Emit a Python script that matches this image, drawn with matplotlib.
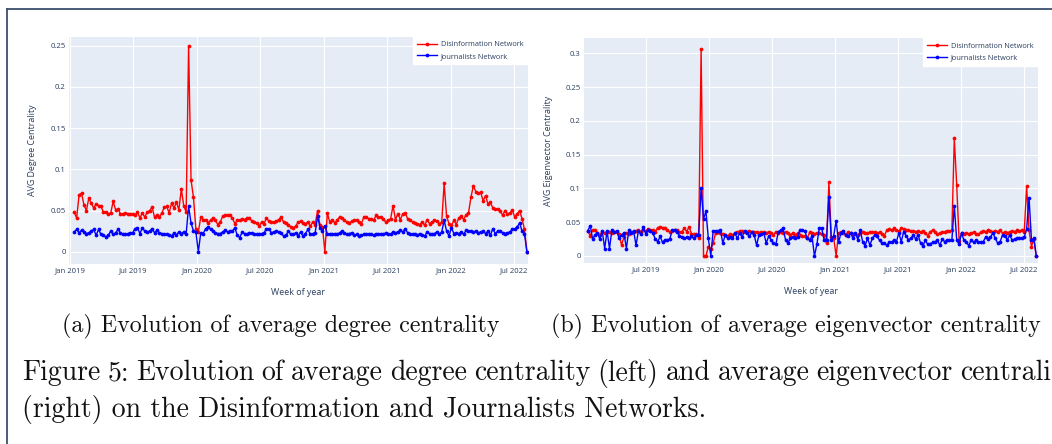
import matplotlib
matplotlib.use("Agg")
import matplotlib.pyplot as plt
import matplotlib.dates as mdates
from matplotlib.lines import Line2D
import pandas as pd

# ---------------------------------------------------------------- data
weeks = pd.date_range("2019-01-13", periods=187, freq="7D")

series_names = ["Disinformation Network", "Journalists Network"]

degree_disinfo = [
    0.048, 0.041, 0.069, 0.071, 0.057, 0.050, 0.065, 0.059, 0.053, 0.058,
    0.056, 0.055, 0.048, 0.048, 0.046, 0.047, 0.061, 0.051, 0.052, 0.046,
    0.046, 0.047, 0.046, 0.046, 0.046, 0.044, 0.048, 0.041, 0.047, 0.042,
    0.048, 0.050, 0.054, 0.042, 0.044, 0.042, 0.047, 0.054, 0.055, 0.047,
    0.059, 0.053, 0.060, 0.051, 0.076,
    0.056, 0.048, 0.250, 0.087, 0.066, 0.027, 0.024,
    0.042, 0.039, 0.039, 0.035, 0.038, 0.041, 0.038, 0.033, 0.036, 0.043,
    0.044, 0.045, 0.044, 0.041, 0.034, 0.038, 0.038, 0.040, 0.039, 0.041,
    0.041, 0.037, 0.036, 0.035, 0.031, 0.036, 0.034, 0.041, 0.037, 0.036,
    0.036, 0.037, 0.039, 0.042, 0.036, 0.035, 0.033, 0.030, 0.029, 0.031,
    0.036, 0.037, 0.035, 0.034, 0.036, 0.031, 0.036, 0.033, 0.050, 0.032,
    0.030, 0.000,
    0.047, 0.036, 0.039, 0.035, 0.038, 0.042, 0.041, 0.038, 0.036, 0.035,
    0.037, 0.038, 0.038, 0.036, 0.034, 0.042, 0.042, 0.040, 0.040, 0.038,
    0.044, 0.042, 0.042, 0.040, 0.036, 0.038, 0.040, 0.056, 0.039, 0.046,
    0.039, 0.046, 0.047, 0.040, 0.039, 0.036, 0.035, 0.034, 0.033, 0.036,
    0.032, 0.039, 0.034, 0.036, 0.038, 0.037, 0.034, 0.036,
    0.083, 0.043, 0.034, 0.032, 0.038, 0.033, 0.041, 0.043, 0.039, 0.045,
    0.047, 0.066, 0.080, 0.073, 0.071, 0.072, 0.062, 0.068, 0.058, 0.060,
    0.053, 0.052, 0.052, 0.050, 0.044, 0.050, 0.046, 0.047, 0.051, 0.042,
    0.046, 0.050, 0.040, 0.027, 0.000,
]

degree_journalists = [
    0.024, 0.027, 0.023, 0.026, 0.024, 0.022, 0.023, 0.025, 0.027, 0.020,
    0.027, 0.021, 0.020, 0.018, 0.020, 0.025, 0.021, 0.023, 0.027, 0.023,
    0.021, 0.021, 0.022, 0.023, 0.023, 0.028, 0.029, 0.022, 0.029, 0.025,
    0.024, 0.025, 0.028, 0.023, 0.026, 0.023, 0.022, 0.021, 0.021, 0.020,
    0.019, 0.023, 0.020, 0.024,
    0.022, 0.024, 0.022, 0.055, 0.035, 0.025, 0.024, 0.000,
    0.023, 0.022, 0.028, 0.030, 0.027, 0.025, 0.023, 0.022, 0.022, 0.024,
    0.026, 0.024, 0.025, 0.025, 0.029, 0.020, 0.017, 0.024, 0.022, 0.021,
    0.023, 0.023, 0.021, 0.021, 0.022, 0.022, 0.023, 0.028, 0.028, 0.023,
    0.024, 0.025, 0.024, 0.023, 0.019, 0.020, 0.025, 0.021, 0.021, 0.023,
    0.019, 0.024, 0.019, 0.022, 0.027, 0.021, 0.022, 0.023, 0.043, 0.029,
    0.025, 0.031,
    0.022, 0.021, 0.021, 0.022, 0.021, 0.023, 0.025, 0.023, 0.021, 0.022,
    0.023, 0.020, 0.021, 0.019, 0.020, 0.021, 0.021, 0.022, 0.021, 0.020,
    0.022, 0.021, 0.022, 0.021, 0.023, 0.022, 0.021, 0.024, 0.023, 0.024,
    0.026, 0.024, 0.028, 0.023, 0.022, 0.021, 0.021, 0.020, 0.022, 0.020,
    0.019, 0.024, 0.022, 0.021, 0.022, 0.024, 0.021, 0.024,
    0.038, 0.025, 0.019, 0.029, 0.022, 0.023, 0.022, 0.024, 0.021, 0.026,
    0.025, 0.025, 0.024, 0.025, 0.023, 0.024, 0.025, 0.022, 0.025, 0.020,
    0.028, 0.022, 0.025, 0.025, 0.023, 0.022, 0.023, 0.024, 0.027, 0.028,
    0.030, 0.035, 0.025, 0.022, 0.000,
]

eigen_disinfo = [
    0.037, 0.030, 0.038, 0.038, 0.034, 0.031, 0.036, 0.034, 0.035, 0.036,
    0.034, 0.036, 0.035, 0.032, 0.016, 0.028, 0.034, 0.033, 0.036, 0.035,
    0.037, 0.038, 0.036, 0.039, 0.037, 0.040, 0.038, 0.039, 0.036, 0.042,
    0.043, 0.042, 0.042, 0.038, 0.036, 0.037, 0.039, 0.038, 0.036, 0.036,
    0.041, 0.036, 0.043, 0.033, 0.033, 0.032, 0.026,
    0.306, 0.000, 0.000, 0.014, 0.010,
    0.019, 0.034, 0.035, 0.034, 0.033, 0.031, 0.030, 0.032, 0.031, 0.034,
    0.035, 0.037, 0.037, 0.036, 0.036, 0.037, 0.035, 0.036, 0.035, 0.034,
    0.036, 0.035, 0.034, 0.036, 0.034, 0.031, 0.036, 0.034, 0.036, 0.034,
    0.035, 0.034, 0.031, 0.034, 0.031, 0.034, 0.031, 0.030, 0.029, 0.026,
    0.035, 0.034, 0.033, 0.034, 0.034, 0.033, 0.031, 0.019, 0.109, 0.028,
    0.026, 0.000,
    0.034, 0.035, 0.034, 0.031, 0.036, 0.034, 0.032, 0.032, 0.031, 0.034,
    0.035, 0.034, 0.034, 0.035, 0.035, 0.035, 0.034, 0.035, 0.033, 0.030,
    0.038, 0.040, 0.038, 0.041, 0.038, 0.037, 0.041, 0.040, 0.038, 0.038,
    0.037, 0.037, 0.036, 0.037, 0.035, 0.037, 0.034, 0.030, 0.036, 0.038,
    0.036, 0.032, 0.034, 0.035, 0.036, 0.037, 0.037, 0.038,
    0.174, 0.105, 0.022, 0.034, 0.033, 0.034, 0.033, 0.034, 0.035, 0.033,
    0.032, 0.035, 0.037, 0.036, 0.038, 0.037, 0.036, 0.037, 0.036, 0.038,
    0.034, 0.035, 0.034, 0.036, 0.037, 0.036, 0.038, 0.037, 0.038, 0.035,
    0.103, 0.038, 0.014, 0.025, 0.000,
]

eigen_journalists = [
    0.037, 0.045, 0.025, 0.031, 0.034, 0.025, 0.037, 0.011, 0.037, 0.011,
    0.039, 0.035, 0.037, 0.026, 0.031, 0.034, 0.011, 0.038, 0.034, 0.037,
    0.016, 0.037, 0.032, 0.043, 0.033, 0.039, 0.037, 0.034, 0.025, 0.021,
    0.029, 0.020, 0.024, 0.024, 0.025, 0.038, 0.038, 0.036, 0.030, 0.028,
    0.026, 0.028, 0.026, 0.029, 0.026, 0.031, 0.031,
    0.101, 0.055, 0.066, 0.026, 0.000,
    0.037, 0.037, 0.037, 0.038, 0.019, 0.031, 0.026, 0.028, 0.026, 0.034,
    0.026, 0.034, 0.028, 0.037, 0.034, 0.029, 0.035, 0.031, 0.016, 0.031,
    0.032, 0.034, 0.019, 0.029, 0.024, 0.019, 0.017, 0.036, 0.038, 0.041,
    0.024, 0.019, 0.026, 0.028, 0.026, 0.028, 0.039, 0.038, 0.037, 0.026,
    0.024, 0.029, 0.000, 0.017, 0.041, 0.041, 0.024, 0.024, 0.087, 0.023,
    0.030, 0.052,
    0.020, 0.034, 0.037, 0.031, 0.029, 0.034, 0.026, 0.034, 0.024, 0.038,
    0.021, 0.015, 0.026, 0.016, 0.026, 0.031, 0.029, 0.023, 0.019, 0.019,
    0.016, 0.020, 0.021, 0.023, 0.021, 0.034, 0.021, 0.036, 0.030, 0.024,
    0.026, 0.031, 0.025, 0.031, 0.019, 0.015, 0.023, 0.017, 0.018, 0.020,
    0.021, 0.023, 0.016, 0.025, 0.021, 0.024, 0.023, 0.024,
    0.074, 0.024, 0.017, 0.034, 0.023, 0.021, 0.015, 0.024, 0.020, 0.023,
    0.021, 0.021, 0.021, 0.028, 0.025, 0.028, 0.034, 0.026, 0.019, 0.021,
    0.031, 0.030, 0.024, 0.031, 0.023, 0.025, 0.026, 0.026, 0.027, 0.028,
    0.040, 0.086, 0.024, 0.026, 0.000,
]

degree_yticks = [0, 0.05, 0.1, 0.15, 0.2, 0.25]
eigen_yticks = [0, 0.05, 0.1, 0.15, 0.2, 0.25, 0.3]
ytick_labels = {0: "0", 0.05: "0.05", 0.1: "0.1", 0.15: "0.15",
                0.2: "0.2", 0.25: "0.25", 0.3: "0.3"}
xtick_dates = pd.to_datetime(["2019-01-01", "2019-07-01", "2020-01-01",
                              "2020-07-01", "2021-01-01", "2021-07-01",
                              "2022-01-01", "2022-07-01"])

x_title = "Week of year"
y_titles = ["AVG Degree Centrality", "AVG Eigenvector Centrality"]
sub_captions = ["(a) Evolution of average degree centrality",
                "(b) Evolution of average eigenvector centrality"]
caption_lines = [
    "Figure 5: Evolution of average degree centrality (left) and average eigenvector centrali",
    "(right) on the Disinformation and Journalists Networks.",
]

# ---------------------------------------------------------------- style
W, H = 1052, 444
fig = plt.figure(figsize=(W / 100, H / 100), dpi=100)
fig.patch.set_facecolor("white")

PLOT_BG = "#E5ECF6"
INK = "#2a3f5f"
COLORS = ["#ff0000", "#0000ff"]
UI_FONT = ["Open Sans", "DejaVu Sans"]
TEX_FONT = ["cmr10", "DejaVu Serif"]
TEXT_BLACK = "#111111"
plt.rcParams["font.family"] = UI_FONT


def px_axes(x0, y0, x1, y1):
    """Axes from pixel box (left, top, right, bottom)."""
    return fig.add_axes([x0 / W, 1 - y1 / H, (x1 - x0) / W, (y1 - y0) / H])


def style_panel(ax, yticks, ylim, xlim, ytitle):
    ax.set_facecolor(PLOT_BG)
    for s in ax.spines.values():
        s.set_visible(False)
    ax.set_ylim(*ylim)
    ax.set_xlim(*xlim)
    ax.set_yticks(yticks)
    ax.set_yticklabels([ytick_labels[t] for t in yticks])
    ticks = [d for d in xtick_dates if xlim[0] <= d <= xlim[1]]
    ax.set_xticks(ticks)
    ax.xaxis.set_major_formatter(mdates.DateFormatter("%b %Y"))
    ax.tick_params(length=0, labelsize=5.6, colors=INK, pad=2.5)
    ax.grid(True, color="white", linewidth=0.8)
    ax.set_axisbelow(True)
    ax.set_xlabel(x_title, fontsize=6.4, color=INK)
    ax.set_ylabel(ytitle, fontsize=6.4, color=INK)
    ax.xaxis.set_label_coords(0.5, -0.106)
    ax.yaxis.set_label_coords(-0.069, 0.5)


def draw_series(ax, values_list):
    for vals, color, name in zip(values_list, COLORS, series_names):
        ax.plot(weeks, vals, color=color, linewidth=1.0, marker="o",
                markersize=2.7, markeredgewidth=0, label=name, zorder=3)
    handles = [Line2D([0], [0], color=c, linewidth=1.0, marker="o",
                      markersize=2.7, markeredgewidth=0) for c in COLORS]
    leg = ax.legend(handles, series_names, loc="upper right",
                    bbox_to_anchor=(1.0, 1.0), borderaxespad=0.0,
                    fontsize=5.3, frameon=True, fancybox=False,
                    handlelength=2.7, handletextpad=0.5, labelspacing=0.6,
                    borderpad=0.6)
    leg.get_frame().set_facecolor("white")
    leg.get_frame().set_edgecolor("white")
    leg.get_frame().set_alpha(1.0)
    for t in leg.get_texts():
        t.set_color(INK)


# left panel: degree centrality
ax1 = px_axes(69, 36.7, 527.6, 264)
style_panel(ax1, degree_yticks, (-0.0149, 0.261),
            (pd.Timestamp("2018-12-29"), pd.Timestamp("2022-08-09")),
            y_titles[0])
draw_series(ax1, [degree_disinfo, degree_journalists])

# right panel: eigenvector centrality
ax2 = px_axes(584, 38, 1038, 263)
style_panel(ax2, eigen_yticks, (-0.0104, 0.3226),
            (pd.Timestamp("2019-01-02"), pd.Timestamp("2022-08-12")),
            y_titles[1])
draw_series(ax2, [eigen_disinfo, eigen_journalists])

# ---------------------------------------------------------------- captions
SUB_SIZE = 17.2
CAP_SIZE = 20.0

fig.text(281 / W, 1 - 326 / H, sub_captions[0], ha="center", va="center",
         fontsize=SUB_SIZE, family=TEX_FONT, color=TEXT_BLACK)
fig.text(796 / W, 1 - 326 / H, sub_captions[1], ha="center", va="center",
         fontsize=SUB_SIZE, family=TEX_FONT, color=TEXT_BLACK)

# first caption line is justified between the margins, word by word
renderer = fig.canvas.get_renderer()
words = caption_lines[0].split(" ")
x_left, x_right = 22.0, 1051.0
y_line1 = 1 - 373 / H
word_texts = [fig.text(0, y_line1, w, ha="left", va="center",
                       fontsize=CAP_SIZE, family=TEX_FONT, color=TEXT_BLACK)
              for w in words]
widths = [t.get_window_extent(renderer=renderer).width for t in word_texts]
gap = (x_right - x_left - sum(widths)) / (len(words) - 1)
xpos = x_left
for t, w in zip(word_texts, widths):
    t.set_x(xpos / W)
    xpos += w + gap

fig.text(x_left / W, 1 - 409 / H, caption_lines[1], ha="left", va="center",
         fontsize=CAP_SIZE, family=TEX_FONT, color=TEXT_BLACK)

# page frame lines
frame_color = "#3d4f6e"
fig.add_artist(Line2D([7 / W, 1.0], [1 - 9 / H, 1 - 9 / H],
                      transform=fig.transFigure, color=frame_color, lw=1.3))
fig.add_artist(Line2D([7 / W, 7 / W], [1 - 9 / H, 0.0],
                      transform=fig.transFigure, color=frame_color, lw=1.3))

fig.savefig("out.png", dpi=100, facecolor="white")
